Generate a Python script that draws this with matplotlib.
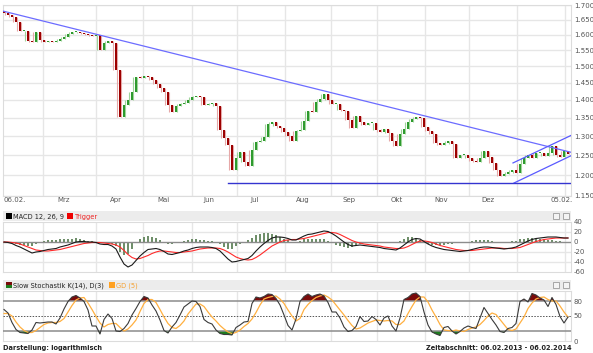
import numpy as np
import matplotlib.pyplot as plt
from matplotlib.patches import Rectangle
from matplotlib.ticker import FixedLocator, NullFormatter, NullLocator

# closes, one candle every ~2 trading days (06.02.2013 - 05.02.2014)
closes = [1.672, 1.666, 1.659, 1.642, 1.612, 1.612, 1.579, 1.576, 1.609, 1.583,
          1.576, 1.579, 1.576, 1.579, 1.586, 1.592, 1.602, 1.609, 1.609, 1.605,
          1.602, 1.599, 1.596, 1.599, 1.551, 1.573, 1.579, 1.573, 1.488, 1.352,
          1.386, 1.400, 1.423, 1.467, 1.464, 1.470, 1.467, 1.458, 1.446, 1.434,
          1.423, 1.386, 1.366, 1.383, 1.389, 1.391, 1.400, 1.409, 1.411, 1.409,
          1.386, 1.389, 1.391, 1.383, 1.316, 1.295, 1.277, 1.213, 1.243, 1.258,
          1.233, 1.223, 1.264, 1.284, 1.287, 1.298, 1.333, 1.338, 1.327, 1.322,
          1.311, 1.300, 1.287, 1.314, 1.316, 1.341, 1.368, 1.366, 1.394, 1.403,
          1.417, 1.400, 1.389, 1.389, 1.371, 1.368, 1.344, 1.322, 1.355, 1.338,
          1.330, 1.335, 1.335, 1.316, 1.311, 1.319, 1.308, 1.287, 1.274, 1.306,
          1.319, 1.338, 1.346, 1.352, 1.349, 1.324, 1.314, 1.306, 1.282, 1.277,
          1.282, 1.287, 1.279, 1.243, 1.251, 1.251, 1.243, 1.235, 1.233, 1.243,
          1.261, 1.246, 1.230, 1.213, 1.198, 1.203, 1.208, 1.213, 1.206, 1.228,
          1.243, 1.251, 1.243, 1.256, 1.256, 1.248, 1.256, 1.274, 1.251, 1.246,
          1.261, 1.253]
first_open = 1.680

macd = [0, -1, -3, -7, -10, -14, -18, -22, -20, -19,
        -17, -15, -14, -13, -10, -8, -6, -3, 0, 1,
        1, 0, 0, -1, -4, -5, -5, -8, -14, -30,
        -44, -50, -46, -37, -28, -21, -15, -14, -13, -15,
        -19, -24, -25, -23, -21, -18, -16, -13, -11, -10,
        -10, -10, -11, -13, -18, -26, -34, -40, -39, -37,
        -35, -33, -27, -18, -10, -3, 3, 8, 10, 10,
        9, 7, 4, 4, 8, 12, 15, 16, 18, 20,
        22, 21, 17, 12, 6, 0, -5, -8, -7, -6,
        -7, -8, -9, -10, -11, -13, -14, -15, -16, -12,
        -6, 0, 5, 7, 6, 1, -4, -8, -11, -13,
        -15, -16, -17, -18, -19, -18, -17, -15, -13, -11,
        -10, -10, -11, -12, -13, -14, -13, -12, -10, -6,
        -2, 2, 5, 7, 8, 9, 10, 10, 10, 9,
        8, 8]
trigger = [0, 0, -1, -2, -4, -7, -10, -13, -16, -17,
           -18, -18, -17, -16, -15, -13, -11, -9, -7, -5,
           -3, -2, -1, -1, -1, -2, -3, -4, -6, -10,
           -17, -25, -31, -34, -33, -30, -27, -23, -20, -18,
           -18, -19, -20, -21, -21, -20, -19, -18, -16, -14,
           -13, -12, -12, -12, -13, -16, -20, -25, -30, -33,
           -35, -36, -35, -31, -26, -20, -14, -8, -4, 0,
           3, 4, 5, 5, 6, 7, 9, 11, 13, 15,
           17, 19, 19, 18, 15, 11, 7, 3, 0, -2,
           -4, -5, -6, -7, -8, -10, -11, -12, -13, -13,
           -12, -9, -5, -1, 2, 2, 1, -1, -4, -7,
           -9, -11, -13, -15, -16, -17, -17, -17, -16, -15,
           -14, -13, -12, -12, -12, -13, -13, -13, -12, -11,
           -8, -5, -2, 1, 3, 5, 6, 7, 8, 8,
           8, 8]
stoch_k = [63, 56, 37, 23, 17, 16, 15, 22, 37, 36,
           37, 38, 38, 34, 46, 64, 79, 88, 91, 86,
           79, 62, 30, 30, 14, 43, 54, 45, 20, 19,
           25, 35, 52, 65, 79, 89, 86, 72, 60, 42,
           21, 16, 28, 37, 52, 68, 74, 80, 79, 69,
           43, 37, 34, 22, 15, 13, 13, 12, 27, 32,
           38, 39, 75, 88, 86, 89, 94, 93, 85, 72,
           52, 31, 22, 44, 79, 89, 94, 89, 92, 94,
           90, 77, 58, 58, 46, 28, 19, 21, 29, 49,
           39, 40, 49, 43, 32, 46, 50, 30, 20, 46,
           83, 87, 94, 96, 89, 58, 32, 18, 14, 11,
           27, 29, 20, 14, 19, 26, 30, 27, 25, 46,
           67, 55, 43, 32, 19, 17, 25, 27, 35, 79,
           84, 78, 95, 92, 86, 82, 69, 87, 73, 49,
           36, 48]
stoch_d = [55, 55, 50, 38, 28, 21, 17, 17, 21, 27,
           33, 36, 37, 37, 39, 45, 58, 71, 82, 86,
           87, 76, 63, 49, 36, 28, 33, 35, 35, 27,
           20, 24, 32, 42, 59, 75, 83, 83, 77, 63,
           48, 35, 27, 25, 31, 40, 54, 64, 74, 74,
           69, 58, 48, 40, 31, 24, 18, 15, 17, 22,
           29, 35, 44, 57, 72, 84, 87, 89, 90, 84,
           75, 62, 50, 40, 45, 63, 73, 81, 87, 90,
           92, 88, 82, 72, 62, 52, 41, 31, 24, 26,
           31, 36, 39, 42, 41, 40, 41, 40, 33, 33,
           40, 55, 69, 82, 88, 88, 78, 62, 48, 33,
           22, 21, 20, 22, 20, 19, 23, 26, 28, 33,
           41, 50, 56, 53, 43, 33, 23, 21, 24, 36,
           48, 65, 76, 84, 87, 88, 83, 80, 80, 70,
           58, 48]

month_lines = [9.75, 23, 34.75, 47, 58.25, 70.25, 81.75, 93.25, 105.25, 116.25, 128.25, 140.25]
month_names = ['Mrz', 'Apr', 'Mai', 'Jun', 'Jul', 'Aug', 'Sep', 'Okt', 'Nov', 'Dez']
month_label_pos = [14.9, 28, 39.75, 51.25, 62.75, 74.75, 86.25, 98.25, 109.25, 121]
price_ticks = [1.15, 1.20, 1.25, 1.30, 1.35, 1.40, 1.45, 1.50, 1.55, 1.60, 1.65, 1.70]
macd_ticks = [40, 20, 0, -20, -40, -60]
stoch_ticks = [80, 50, 0]

trend_x, trend_y = [-0.25, 142.0], [1.679, 1.257]
chan_top_x, chan_top_y = [127.25, 142.0], [1.2305, 1.303]
chan_bot_x, chan_bot_y = [127.5, 142.0], [1.181, 1.250]
support_x, support_y = [56.0, 142.0], [1.180, 1.180]

W, H = 593, 353
def box(l, t, r, b):
    return [l / W, 1 - b / H, (r - l) / W, (b - t) / H]

fig = plt.figure(figsize=(W / 100, H / 100), dpi=100)
ax = fig.add_axes(box(3, 5, 571, 196))
axm = fig.add_axes(box(3, 222, 571, 272))
axs = fig.add_axes(box(3, 291, 571, 341))

x = np.arange(len(closes))
c = np.array(closes)
o = np.concatenate([[first_open], c[:-1]])
nxt = np.concatenate([c[1:], [c[-1]]])
up = c >= o
lo = np.minimum(np.minimum(o, c), nxt)
hi = np.maximum(np.maximum(o, c), nxt)

grid_c = '#e6e6e6'
for a in (ax, axm, axs):
    a.set_xlim(-0.25, 141.75)
    a.xaxis.set_major_locator(FixedLocator(month_lines))
    a.grid(axis='x', color=grid_c, lw=1)
    a.tick_params(length=0, labelbottom=False, labelleft=False, labelright=True,
                  labelsize=5, labelcolor='#555555', pad=2)
    for s in a.spines.values():
        s.set_color('#dcdcdc')
        s.set_linewidth(0.8)
    a.set_axisbelow(True)

# price panel
ax.set_yscale('log')
ax.set_ylim(1.15, 1.70)
ax.yaxis.set_major_locator(FixedLocator(price_ticks))
ax.yaxis.set_minor_locator(NullLocator())
ax.yaxis.set_minor_formatter(NullFormatter())
ax.set_yticklabels(['%.3f' % v for v in price_ticks])
ax.grid(axis='y', color=grid_c, lw=1)

ax.vlines(x[up] + 0.35, lo[up], hi[up], color='#9fd49a', lw=0.8, zorder=2)
ax.vlines(x[~up] + 0.35, lo[~up], hi[~up], color='#e6a8a8', lw=0.8, zorder=2)
body_lo = np.minimum(o, c)
body_h = np.maximum(np.abs(c - o), 0.002)
ax.bar(x[up], body_h[up], bottom=body_lo[up], width=0.5, color='#2e9a2e', lw=0, zorder=3)
ax.bar(x[~up], body_h[~up], bottom=body_lo[~up], width=0.5, color='#9c0000', lw=0, zorder=3)

ax.plot(trend_x, trend_y, color='#6c6cff', lw=0.9, zorder=4)
ax.plot(chan_top_x, chan_top_y, color='#5a5aff', lw=0.9, zorder=4)
ax.plot(chan_bot_x, chan_bot_y, color='#5a5aff', lw=0.9, zorder=4)
ax.plot(support_x, support_y, color='#3434d0', lw=1.0, zorder=4)

for name, pos in zip(month_names, month_label_pos):
    ax.text(pos, -0.021, name, transform=ax.get_xaxis_transform(), ha='center', va='center',
            fontsize=5, color='#555555')
ax.text(-0.25, -0.021, '06.02.', transform=ax.get_xaxis_transform(), ha='left', va='center',
        fontsize=5, color='#555555')
ax.text(142.2, -0.021, '05.02.', transform=ax.get_xaxis_transform(), ha='right', va='center',
        fontsize=5, color='#555555')

# MACD panel
hist = np.array(macd) - np.array(trigger)
axm.set_ylim(-60, 40)
axm.yaxis.set_major_locator(FixedLocator(macd_ticks))
axm.set_yticklabels([str(v) for v in macd_ticks])
for v in (20, -20, -40):
    axm.axhline(v, color=grid_c, lw=1, zorder=0)
axm.bar(x, hist, width=0.45, color='#6f8f6a', zorder=2)
axm.axhline(0, color='#8c8c8c', lw=1, zorder=3)
axm.plot(x, trigger, color='#ff2a2a', lw=0.8, zorder=4)
axm.plot(x, macd, color='#1a1a1a', lw=0.8, zorder=5)

# stochastic panel
k = np.array(stoch_k, dtype=float)
axs.set_ylim(0, 100)
axs.yaxis.set_major_locator(FixedLocator(stoch_ticks))
axs.set_yticklabels([str(v) for v in stoch_ticks])
axs.fill_between(x, k, 80, where=k > 80, interpolate=True, color='#7a0a0a', lw=0, zorder=2)
axs.fill_between(x, k, 20, where=k < 20, interpolate=True, color='#1e7d1e', lw=0, zorder=2)
axs.axhline(80, color='#8c8c8c', lw=1.1, zorder=3)
axs.axhline(20, color='#8c8c8c', lw=1.1, zorder=3)
axs.axhline(50, color='#555555', lw=0.7, ls=(0, (1.5, 1.5)), zorder=3)
axs.plot(x, stoch_d, color='#ffb040', lw=0.9, zorder=4)
axs.plot(x, k, color='#3a3a3a', lw=0.8, zorder=5)

# header bands
def band(top, bottom):
    fig.add_artist(Rectangle((3 / W, 1 - bottom / H), 568 / W, (bottom - top) / H,
                             transform=fig.transFigure, color='#ececec', lw=0))
    for l in (553, 563):
        fig.add_artist(Rectangle((l / W, 1 - (top + 8) / H), 6 / W, 6 / H,
                                 transform=fig.transFigure, facecolor='#f4f4f4',
                                 edgecolor='#9a9a9a', lw=0.6))

def square(l, top, color):
    fig.add_artist(Rectangle((l / W, 1 - (top + 6) / H), 6 / W, 6 / H,
                             transform=fig.transFigure, color=color, lw=0))

band(211, 221)
square(6, 213, '#000000')
fig.text(13 / W, 1 - 216.5 / H, 'MACD 12, 26, 9', fontsize=4.8, va='center', color='#222222')
square(67, 213, '#ee0000')
fig.text(75 / W, 1 - 216.5 / H, 'Trigger', fontsize=4.8, va='center', color='#ee2222')

band(280, 290)
square(6, 282, '#7a0a0a')
fig.add_artist(Rectangle((6 / W, 1 - 288 / H), 6 / W, 3 / H, transform=fig.transFigure,
                         color='#1e7d1e', lw=0))
fig.text(13 / W, 1 - 285.5 / H, 'Slow Stochastik K(14), D(3)', fontsize=4.8, va='center',
         color='#222222')
square(109, 282, '#ffa020')
fig.text(116 / W, 1 - 285.5 / H, 'GD (5)', fontsize=4.8, va='center', color='#f5a030')

fig.text(3 / W, 1 - 348 / H, 'Darstellung: logarithmisch', fontsize=4.8, va='center',
         fontweight='bold', color='#222222')
fig.text(572 / W, 1 - 348 / H, 'Zeitabschnitt: 06.02.2013 - 06.02.2014', fontsize=4.8,
         va='center', ha='right', fontweight='bold', color='#222222')

fig.savefig('out.png', dpi=100)
